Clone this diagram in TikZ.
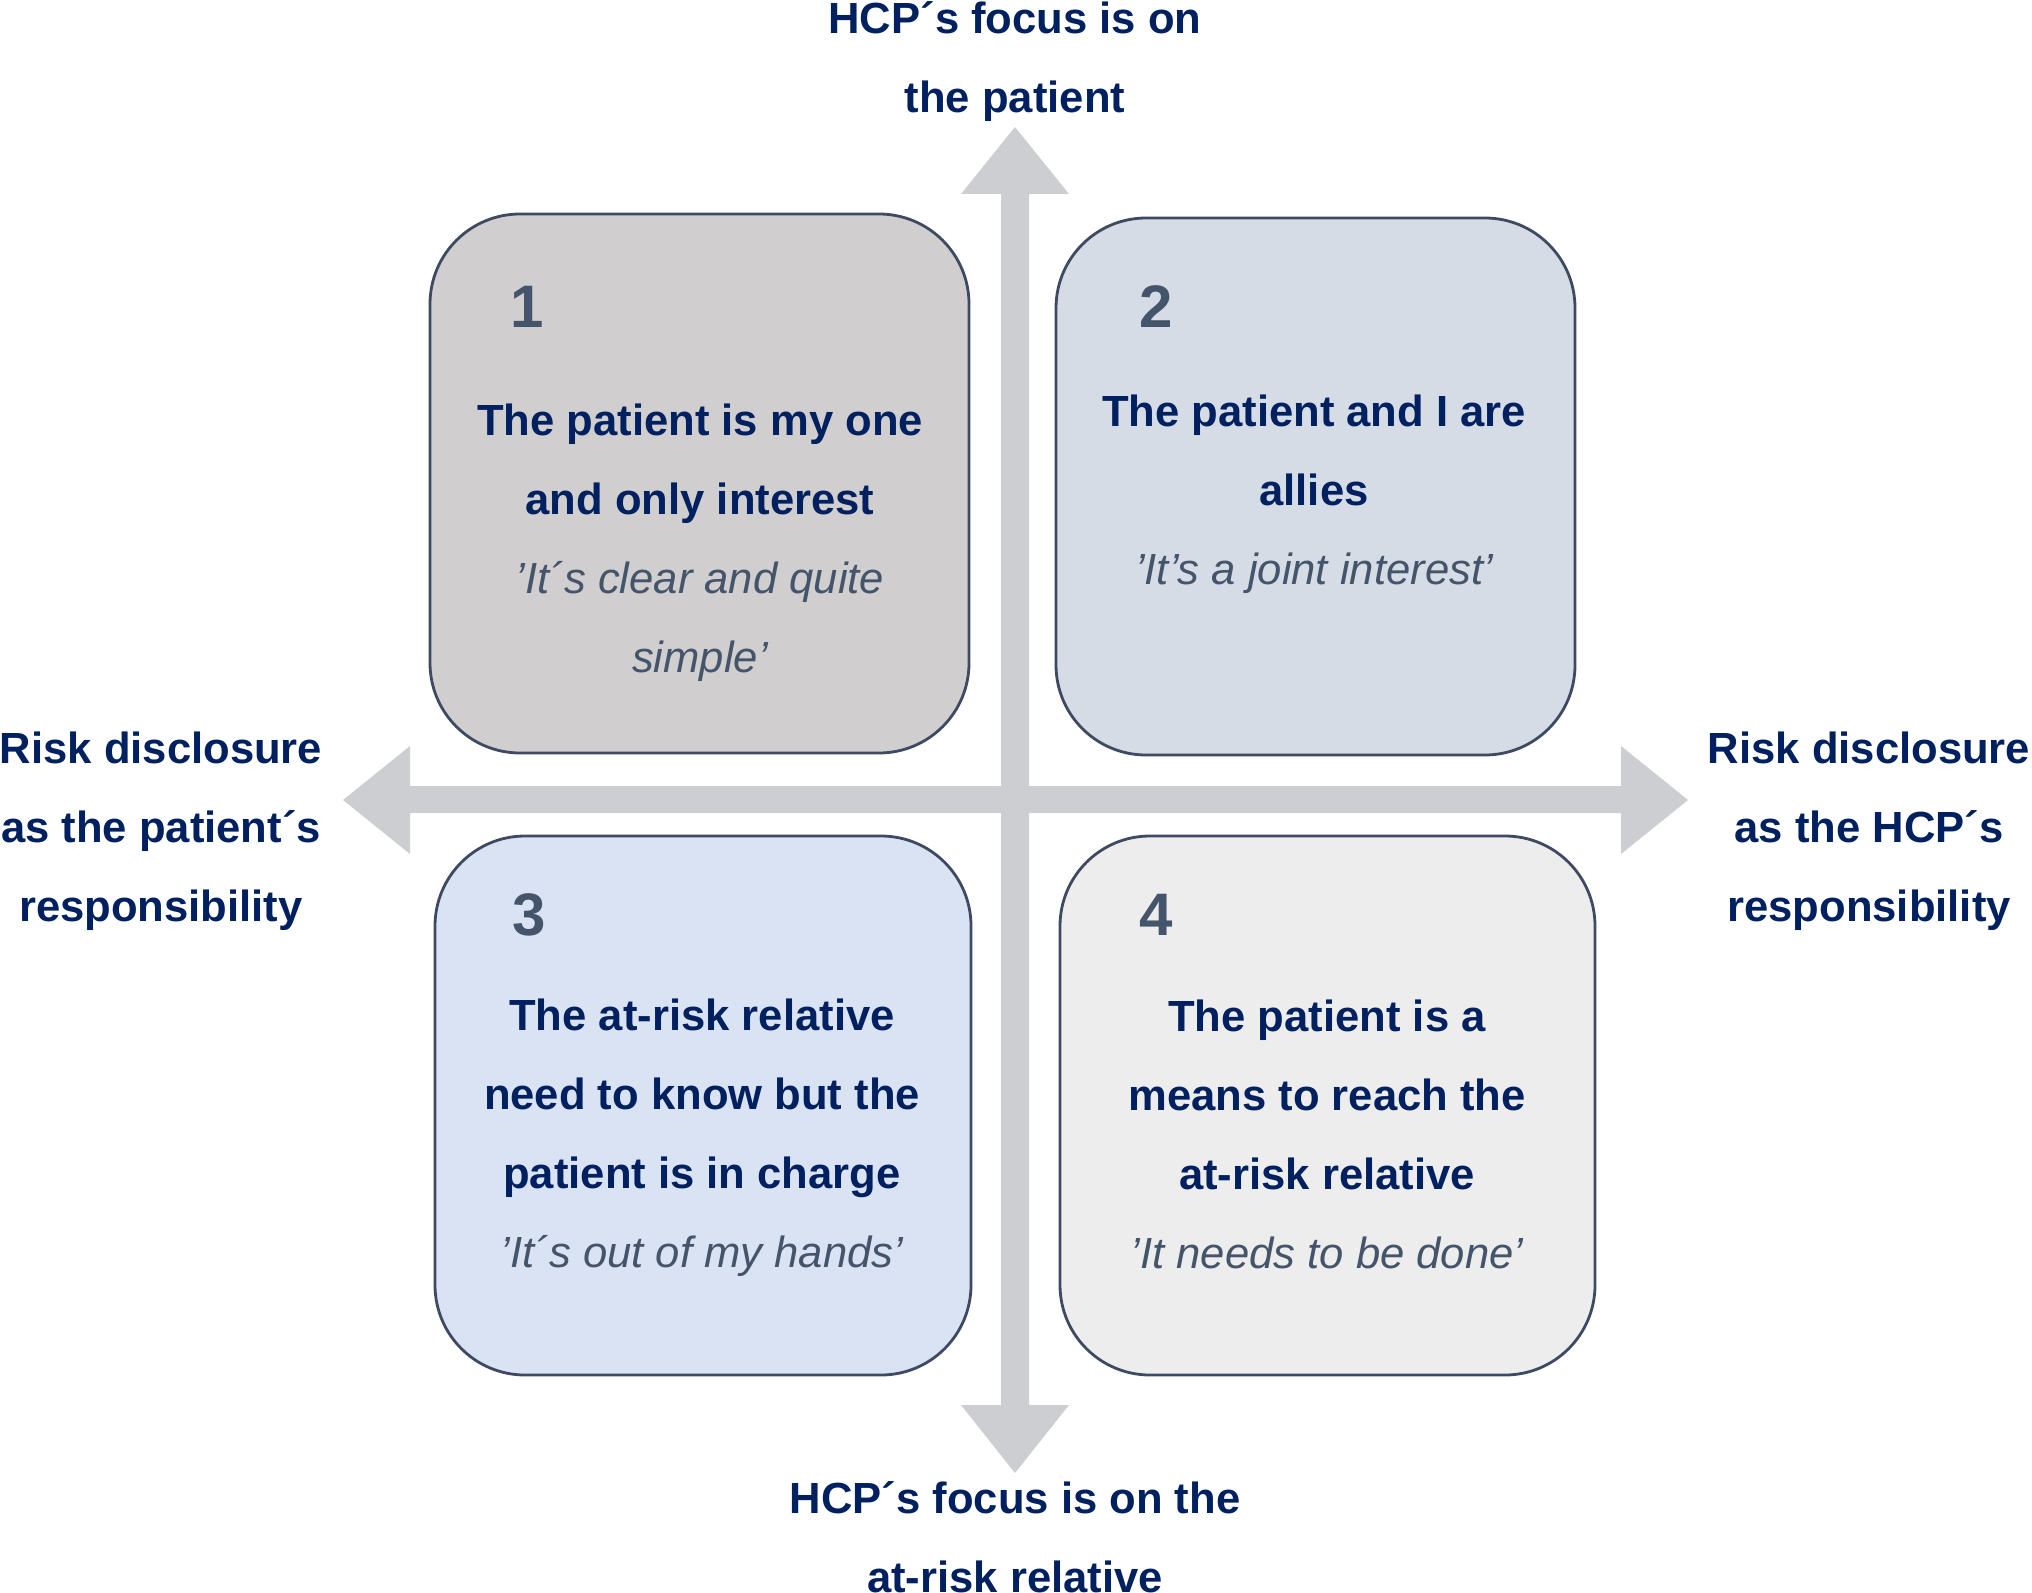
\documentclass[tikz,border=0pt]{standalone}
\usepackage{fontspec}
\setmainfont{Liberation Sans}
\definecolor{navy}{HTML}{002060}
\definecolor{slate}{HTML}{44546A}
\definecolor{edgec}{HTML}{3E4A62}
\definecolor{arrowc}{HTML}{CDCED2}
\definecolor{fillA}{HTML}{D0CECE}
\definecolor{fillB}{HTML}{D6DCE5}
\definecolor{fillC}{HTML}{DAE3F3}
\definecolor{fillD}{HTML}{EDEDED}
\tikzset{
  quadbox/.style={draw=edgec, line width=1.4pt, rounded corners=45pt, inner sep=0pt},
  lab/.style={font=\fontsize{21.8pt}{39.5pt}\selectfont\bfseries, text=navy, align=center, inner sep=0pt},
  num/.style={font=\fontsize{30pt}{36pt}\selectfont\bfseries, text=slate, inner sep=0pt},
}
\newcommand{\qt}[1]{{\mdseries\itshape\color{slate}#1}}
\begin{document}
\begin{tikzpicture}[x=0.5pt,y=-0.5pt]
\useasboundingbox (0,0) rectangle (2032,1593);
% axes
\coordinate (up) at (1015,127);
\coordinate (down) at (1015,1473);
\coordinate (left) at (343,800);
\coordinate (right) at (1688,800);
\fill[arrowc] (up) -- (1069,194) -- (1029,194) -- (1029,1405) -- (1069,1405) -- (down) -- (961,1405) -- (1001,1405) -- (1001,194) -- (961,194) -- cycle;
\fill[arrowc] (left) -- (410,746) -- (410,786) -- (1621,786) -- (1621,746) -- (right) -- (1621,854) -- (1621,813) -- (410,813) -- (410,854) -- cycle;
% boxes
\node[quadbox, fill=fillA, minimum width=269.5pt, minimum height=269.5pt] (b1) at (699.5,483.5) {};
\node[quadbox, fill=fillB, minimum width=259.5pt, minimum height=268.5pt] (b2) at (1315.5,486.5) {};
\node[quadbox, fill=fillC, minimum width=268pt, minimum height=269.5pt] (b3) at (703,1105.5) {};
\node[quadbox, fill=fillD, minimum width=267.5pt, minimum height=269.5pt] (b4) at (1327.5,1105.5) {};
% numbers
\node[num] (n1) at (527,307) {1};
\node[num] (n2) at (1156,307) {2};
\node[num] (n3) at (529,915) {3};
\node[num] (n4) at (1156,915) {4};
% box texts
\node[lab] (t1) at (700,543) {The patient is my one\\and only interest\\\qt{’It´s clear and quite}\\\qt{simple’}};
\node[lab] (t2) at (1314,494) {The patient and I are\\allies\\\qt{’It’s a joint interest’}};
\node[lab] (t3) at (702,1138) {The at-risk relative\\need to know but the\\patient is in charge\\\qt{’It´s out of my hands’}};
\node[lab] (t4) at (1327,1134) {The patient is a\\means to reach the\\at-risk relative\\\qt{’It needs to be done’}};
% axis labels
\node[lab] (top) at (1015,62) {HCP´s focus is on\\the patient};
\node[lab] (bot) at (1015,1537) {HCP´s focus is on the\\at-risk relative};
\node[lab] (lft) at (161,831) {Risk disclosure\\as the patient´s\\responsibility};
\node[lab] (rgt) at (1869,831) {Risk disclosure\\as the HCP´s\\responsibility};
\end{tikzpicture}
\end{document}
